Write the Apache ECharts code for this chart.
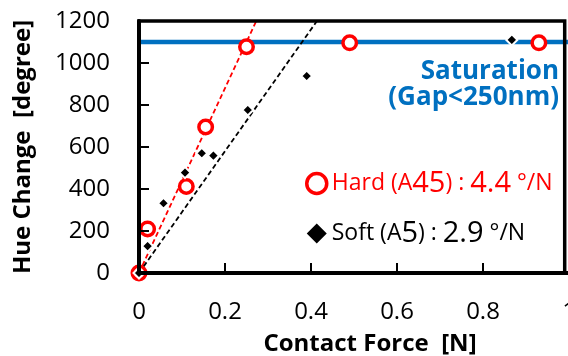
<!DOCTYPE html>
<html>
<head>
<meta charset="utf-8">
<script src="https://cdn.jsdelivr.net/npm/echarts@6/dist/echarts.min.js"></script>
<style>
  html, body { margin: 0; padding: 0; background: #fff; }
  #chart { width: 568px; height: 356px; }
</style>
</head>
<body>
<div id="chart"></div>
<script>
// Hard film (A45): contact force [N] and hue change [degree]
const hardForce = [0, 0.02, 0.11, 0.155, 0.25, 0.49, 0.93];
const hardHue   = [0, 210, 412, 695, 1077, 1096, 1096];

// Soft film (A5)
const softForce = [0, 0.02, 0.057, 0.107, 0.146, 0.173, 0.253, 0.39, 0.867];
const softHue   = [0, 128, 332, 478, 570, 559, 776, 938, 1110];

// Fitted sensitivities, degree per mN (shown in the legend)
const hardSlope = [4.4];
const softSlope = [2.9];

// Saturated hue change once the gap is below 250 nm
const saturationLevel = [1100];

const xTicks = { min: 0, max: 1, interval: 0.2 };
const yTicks = { min: 0, max: 1200, interval: 200 };
// The plot frame closes slightly before the end of the force axis
const frameRight = 0.99;

const FONT = '"Open Sans", "Noto Sans", sans-serif';
const RED = '#ff0000';
const BLUE = '#0070c0';

const pairs = (xs, ys) => xs.map((x, i) => [x, ys[i]]);
// Fit line through the origin, clipped at the top of the value axis
const fitLine = (slopePerMilliNewton) => {
  const perNewton = slopePerMilliNewton * 1000;
  return [[0, 0], [yTicks.max / perNewton, yTicks.max]];
};

const chart = echarts.init(document.getElementById('chart'), null, { renderer: 'canvas' });

const option = {
  animation: false,
  backgroundColor: '#ffffff',
  grid: {
    left: 139, top: 21, bottom: 83, width: 430,
    containLabel: false, outerBoundsMode: 'none'
  },
  xAxis: {
    type: 'value',
    min: xTicks.min, max: xTicks.max, interval: xTicks.interval,
    name: 'Contact Force  [N]',
    nameLocation: 'middle',
    nameGap: 59,
    nameTextStyle: { fontFamily: FONT, fontWeight: 'bold', fontSize: 24, color: '#000', padding: [0, 0, 0, 32] },
    axisLine: { onZero: false, lineStyle: { color: '#000', width: 4 } },
    axisTick: { inside: true, length: 10, lineStyle: { color: '#000', width: 2 } },
    axisLabel: { margin: 27, fontFamily: FONT, fontSize: 24, color: '#000', showMaxLabel: true,
      formatter: (v) => String(v) },
    splitLine: { show: false },
    z: 5
  },
  yAxis: {
    type: 'value',
    min: yTicks.min, max: yTicks.max, interval: yTicks.interval,
    name: 'Hue Change  [degree]',
    nameLocation: 'middle',
    nameRotate: 90,
    nameGap: 104,
    nameTextStyle: { fontFamily: FONT, fontWeight: 'bold', fontSize: 24, color: '#000' },
    axisLine: { onZero: false, lineStyle: { color: '#000', width: 4 } },
    axisTick: { inside: true, length: 10, lineStyle: { color: '#000', width: 2 } },
    axisLabel: { margin: 29, fontFamily: FONT, fontSize: 24, color: '#000',
      formatter: (v) => String(v) },
    splitLine: { show: false },
    z: 5
  },
  legend: {
    orient: 'vertical',
    left: 300,
    top: 164,
    itemWidth: 20,
    itemHeight: 20,
    itemGap: 21,
    selectedMode: false,
    data: [
      { name: 'Hard (A45)', icon: 'circle',
        itemStyle: { color: '#fff', borderColor: RED, borderWidth: 3.5 } },
      { name: 'Soft (A5)', icon: 'diamond',
        itemStyle: { color: '#000', borderWidth: 0 } }
    ],
    formatter: (name) => name.startsWith('Hard')
      ? `{hs|Hard (A}{hb|45}{hs|) : }{hb|${hardSlope[0].toFixed(1)}}{hs| °/N}`
      : `{ss|Soft (A}{sb|5}{ss|) : }{sb|${softSlope[0].toFixed(1)}}{ss| °/N}`,
    textStyle: {
      fontFamily: FONT,
      rich: {
        hs: { fontFamily: FONT, fontSize: 23, color: RED },
        hb: { fontFamily: FONT, fontSize: 29, color: RED },
        ss: { fontFamily: FONT, fontSize: 23, color: '#000' },
        sb: { fontFamily: FONT, fontSize: 29, color: '#000' }
      }
    }
  },
  graphic: [
    { type: 'text', z: 10, right: 9, top: 59,
      style: { text: 'Saturation', fill: BLUE, font: `bold 26px ${FONT}`, textAlign: 'right' } },
    { type: 'text', z: 10, right: 9, top: 85,
      style: { text: '(Gap<250nm)', fill: BLUE, font: `bold 26px ${FONT}`, textAlign: 'right' } }
  ],
  series: [
    {
      name: 'Saturation', type: 'line', silent: true, symbol: 'none', z: 1,
      data: [[xTicks.min, saturationLevel[0]], [xTicks.max, saturationLevel[0]]],
      lineStyle: { color: BLUE, width: 4.5 }
    },
    {
      name: 'Hard fit', type: 'line', silent: true, symbol: 'none', z: 2,
      data: fitLine(hardSlope[0]),
      lineStyle: { color: RED, width: 1.8, type: [5, 3] }
    },
    {
      name: 'Soft fit', type: 'line', silent: true, symbol: 'none', z: 2,
      data: fitLine(softSlope[0]),
      lineStyle: { color: '#000', width: 1.8, type: [5, 3] }
    },
    {
      name: 'Hard (A45)', type: 'scatter', z: 3,
      symbol: 'circle', symbolSize: 13.5,
      data: pairs(hardForce, hardHue),
      itemStyle: { color: '#fff', borderColor: RED, borderWidth: 3.5, opacity: 1 }
    },
    {
      name: 'Soft (A5)', type: 'scatter', z: 4,
      symbol: 'diamond', symbolSize: 11,
      data: pairs(softForce, softHue),
      itemStyle: { color: '#000', borderColor: '#fff', borderWidth: 2, opacity: 1 }
    },
    {
      // Top and right edges of the plot frame
      name: 'Frame', type: 'line', silent: true, symbol: 'none', z: 6, clip: false,
      data: [[xTicks.min, yTicks.max], [frameRight, yTicks.max], [frameRight, yTicks.min]],
      lineStyle: { color: '#000', width: 3.5, cap: 'square', join: 'miter' }
    }
  ]
};

chart.setOption(option);
</script>
</body>
</html>
